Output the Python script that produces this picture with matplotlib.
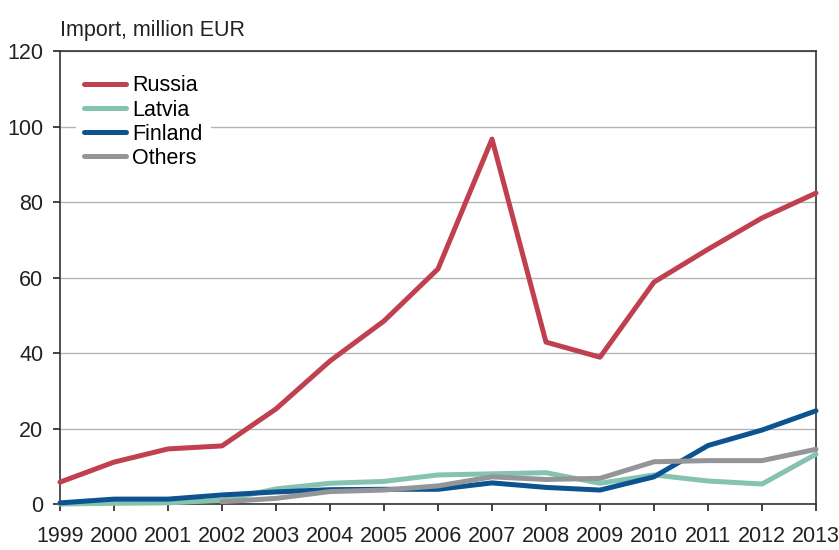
import matplotlib.pyplot as plt

years = list(range(1999, 2014))
russia = [5.8, 11.1, 14.6, 15.4, 25.2, 37.9, 48.5, 62.3, 96.7, 42.9, 38.9, 58.8, 67.5, 75.8, 82.4]
latvia = [0.0, 0.2, 0.3, 1.0, 4.0, 5.5, 6.0, 7.7, 8.0, 8.3, 5.5, 7.7, 6.1, 5.3, 13.2]
finland = [0.3, 1.3, 1.3, 2.4, 3.2, 3.8, 3.9, 3.9, 5.6, 4.4, 3.7, 7.2, 15.5, 19.6, 24.7]
others_years = list(range(2002, 2014))
others = [0.6, 1.5, 3.3, 3.7, 4.8, 7.2, 6.5, 6.8, 11.2, 11.5, 11.5, 14.5]

plt.rcParams['font.family'] = ['Liberation Sans', 'DejaVu Sans']
fs = 15.5

fig = plt.figure(figsize=(8.39, 5.5), dpi=100)
ax = fig.add_axes([0.0715, 0.0836, 0.9011, 0.8234])

lw = 3.6
kw = dict(lw=lw, solid_capstyle='round', clip_on=False)
ax.plot(years, russia, color='#c0404f', label='Russia', zorder=5, **kw)
ax.plot(years, latvia, color='#86c2b0', label='Latvia', zorder=3, **kw)
ax.plot(years, finland, color='#0d5391', label='Finland', zorder=4, **kw)
ax.plot(others_years, others, color='#939598', label='Others', zorder=4, **kw)

ax.set_xlim(1999, 2013)
ax.set_ylim(0, 120)
ax.set_xticks(years)
ax.set_yticks(range(0, 121, 20))
ax.yaxis.grid(True, color='#b5b5b5', lw=1)
ax.set_axisbelow(True)
for s in ax.spines.values():
    s.set_color('#333333')
    s.set_linewidth(1.2)
ax.tick_params(axis='both', labelsize=fs, colors='#222222', direction='out', length=5, width=1.2)
ax.tick_params(axis='x', pad=11)
ax.tick_params(axis='y', pad=7)

fig.text(0.0715, 1 - 36 / 550, 'Import, million EUR', fontsize=fs, color='#222222',
         va='baseline', ha='left')

leg = ax.legend(loc='upper left', bbox_to_anchor=(0.012, 0.98), fontsize=fs, frameon=True,
                handlelength=1.95, handletextpad=0.28, labelspacing=0.15, borderaxespad=0.3)
leg.get_frame().set_facecolor('white')
leg.get_frame().set_edgecolor('none')
leg.get_frame().set_alpha(1)
for line in leg.get_lines():
    line.set_linewidth(lw)

fig.savefig('out.png', dpi=100)
